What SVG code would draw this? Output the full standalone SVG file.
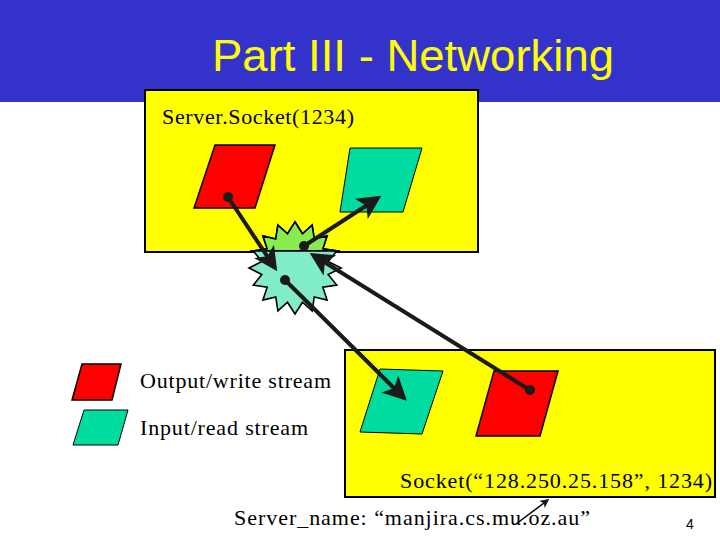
<svg xmlns="http://www.w3.org/2000/svg" width="720" height="540" viewBox="0 0 720 540">
<style>
.t{font-family:"Liberation Serif",serif;font-size:22px;fill:#000}
.red{fill:#ff0000;stroke:#000;stroke-width:1.5}
.tl{fill:#00dca0;stroke:#000;stroke-width:1}
.ln{stroke:#1a1a1a;stroke-width:4;fill:none;marker-end:url(#ah)}
.box{fill:#ffff00;stroke:#000;stroke-width:2}
</style>
<defs>
<marker id="ah" markerWidth="6" markerHeight="6" refX="5" refY="3" orient="auto" markerUnits="strokeWidth"><path d="M0,0 L6,3 L0,6 L1.5,3 Z" fill="#1a1a1a"/></marker>
<clipPath id="top"><rect x="0" y="0" width="720" height="252"/></clipPath>
</defs>
<rect width="720" height="540" fill="#fff"/>
<rect x="0" y="0" width="720" height="102" fill="#3333cc"/>
<text x="212" y="71" textLength="402" lengthAdjust="spacingAndGlyphs" style="font-family:'Liberation Sans',sans-serif;font-size:44px;fill:#ffff00">Part III - Networking</text>
<g id="server"><rect class="box" x="145" y="90" width="333" height="162"/><text class="t" x="162" y="124" textLength="192">Server.Socket(1234)</text>
<polygon class="red" points="215,145 275,145 255,208 194,208"/>
<polygon class="tl" points="350,148 422,148 403,212 340,212"/></g>
<g id="client"><rect class="box" x="345" y="350" width="370" height="147"/>
<text class="t" x="400" y="488" textLength="312">Socket(“128.250.25.158”, 1234)</text>
<polygon class="tl" points="380,369 443,371 422,434 360,432"/>
<polygon class="red" points="494,371 558,371 540,436 476,436"/></g>
<g id="star" transform="translate(295,268) scale(1.07) translate(-295,-268)">
<polygon fill="#80ecc8" stroke="#000" stroke-width="1.5" points="295,225 302,236 311,228 313,241 325,238 321,250 334,252 326,262 338,268 326,274 334,284 321,286 325,298 313,295 311,308 302,300 295,311 288,300 279,308 277,295 265,298 269,286 256,284 264,274 252,268 264,262 256,252 269,250 265,238 277,241 279,228 288,236"/>
<polygon clip-path="url(#top)" fill="#88ec50" stroke="#000" stroke-width="1.5" points="295,225 302,236 311,228 313,241 325,238 321,250 334,252 326,262 338,268 326,274 334,284 321,286 325,298 313,295 311,308 302,300 295,311 288,300 279,308 277,295 265,298 269,286 256,284 264,274 252,268 264,262 256,252 269,250 265,238 277,241 279,228 288,236"/>
<line x1="253" y1="252" x2="337" y2="252" stroke="#000" stroke-width="1.5"/></g>
<g id="legend"><polygon class="red" points="82,364 121,364 112,400 72,400"/><text class="t" x="140" y="388" textLength="191">Output/write stream</text>
<polygon class="tl" points="84,410 128,410 118,445 73,445"/><text class="t" x="140" y="435" textLength="168">Input/read stream</text></g>
<g id="connectors">
<line class="ln" x1="228" y1="197" x2="275" y2="268"/><circle cx="228" cy="197" r="5" fill="#1a1a1a"/>
<line class="ln" x1="304" y1="246" x2="378" y2="198"/><circle cx="304" cy="246" r="5" fill="#1a1a1a"/>
<line class="ln" x1="530" y1="390" x2="313" y2="255"/><circle cx="530" cy="390" r="5" fill="#1a1a1a"/>
<line class="ln" x1="285" y1="280" x2="404" y2="398"/><circle cx="285" cy="280" r="5" fill="#1a1a1a"/>
<line x1="516" y1="524" x2="548" y2="500" stroke="#000" stroke-width="1.5" marker-end="url(#ah)"/>
</g>
<text class="t" x="234" y="525" textLength="356">Server_name: “manjira.cs.mu.oz.au”</text>
<text x="686" y="529" style="font-family:'Liberation Sans',sans-serif;font-size:14px">4</text>
</svg>
